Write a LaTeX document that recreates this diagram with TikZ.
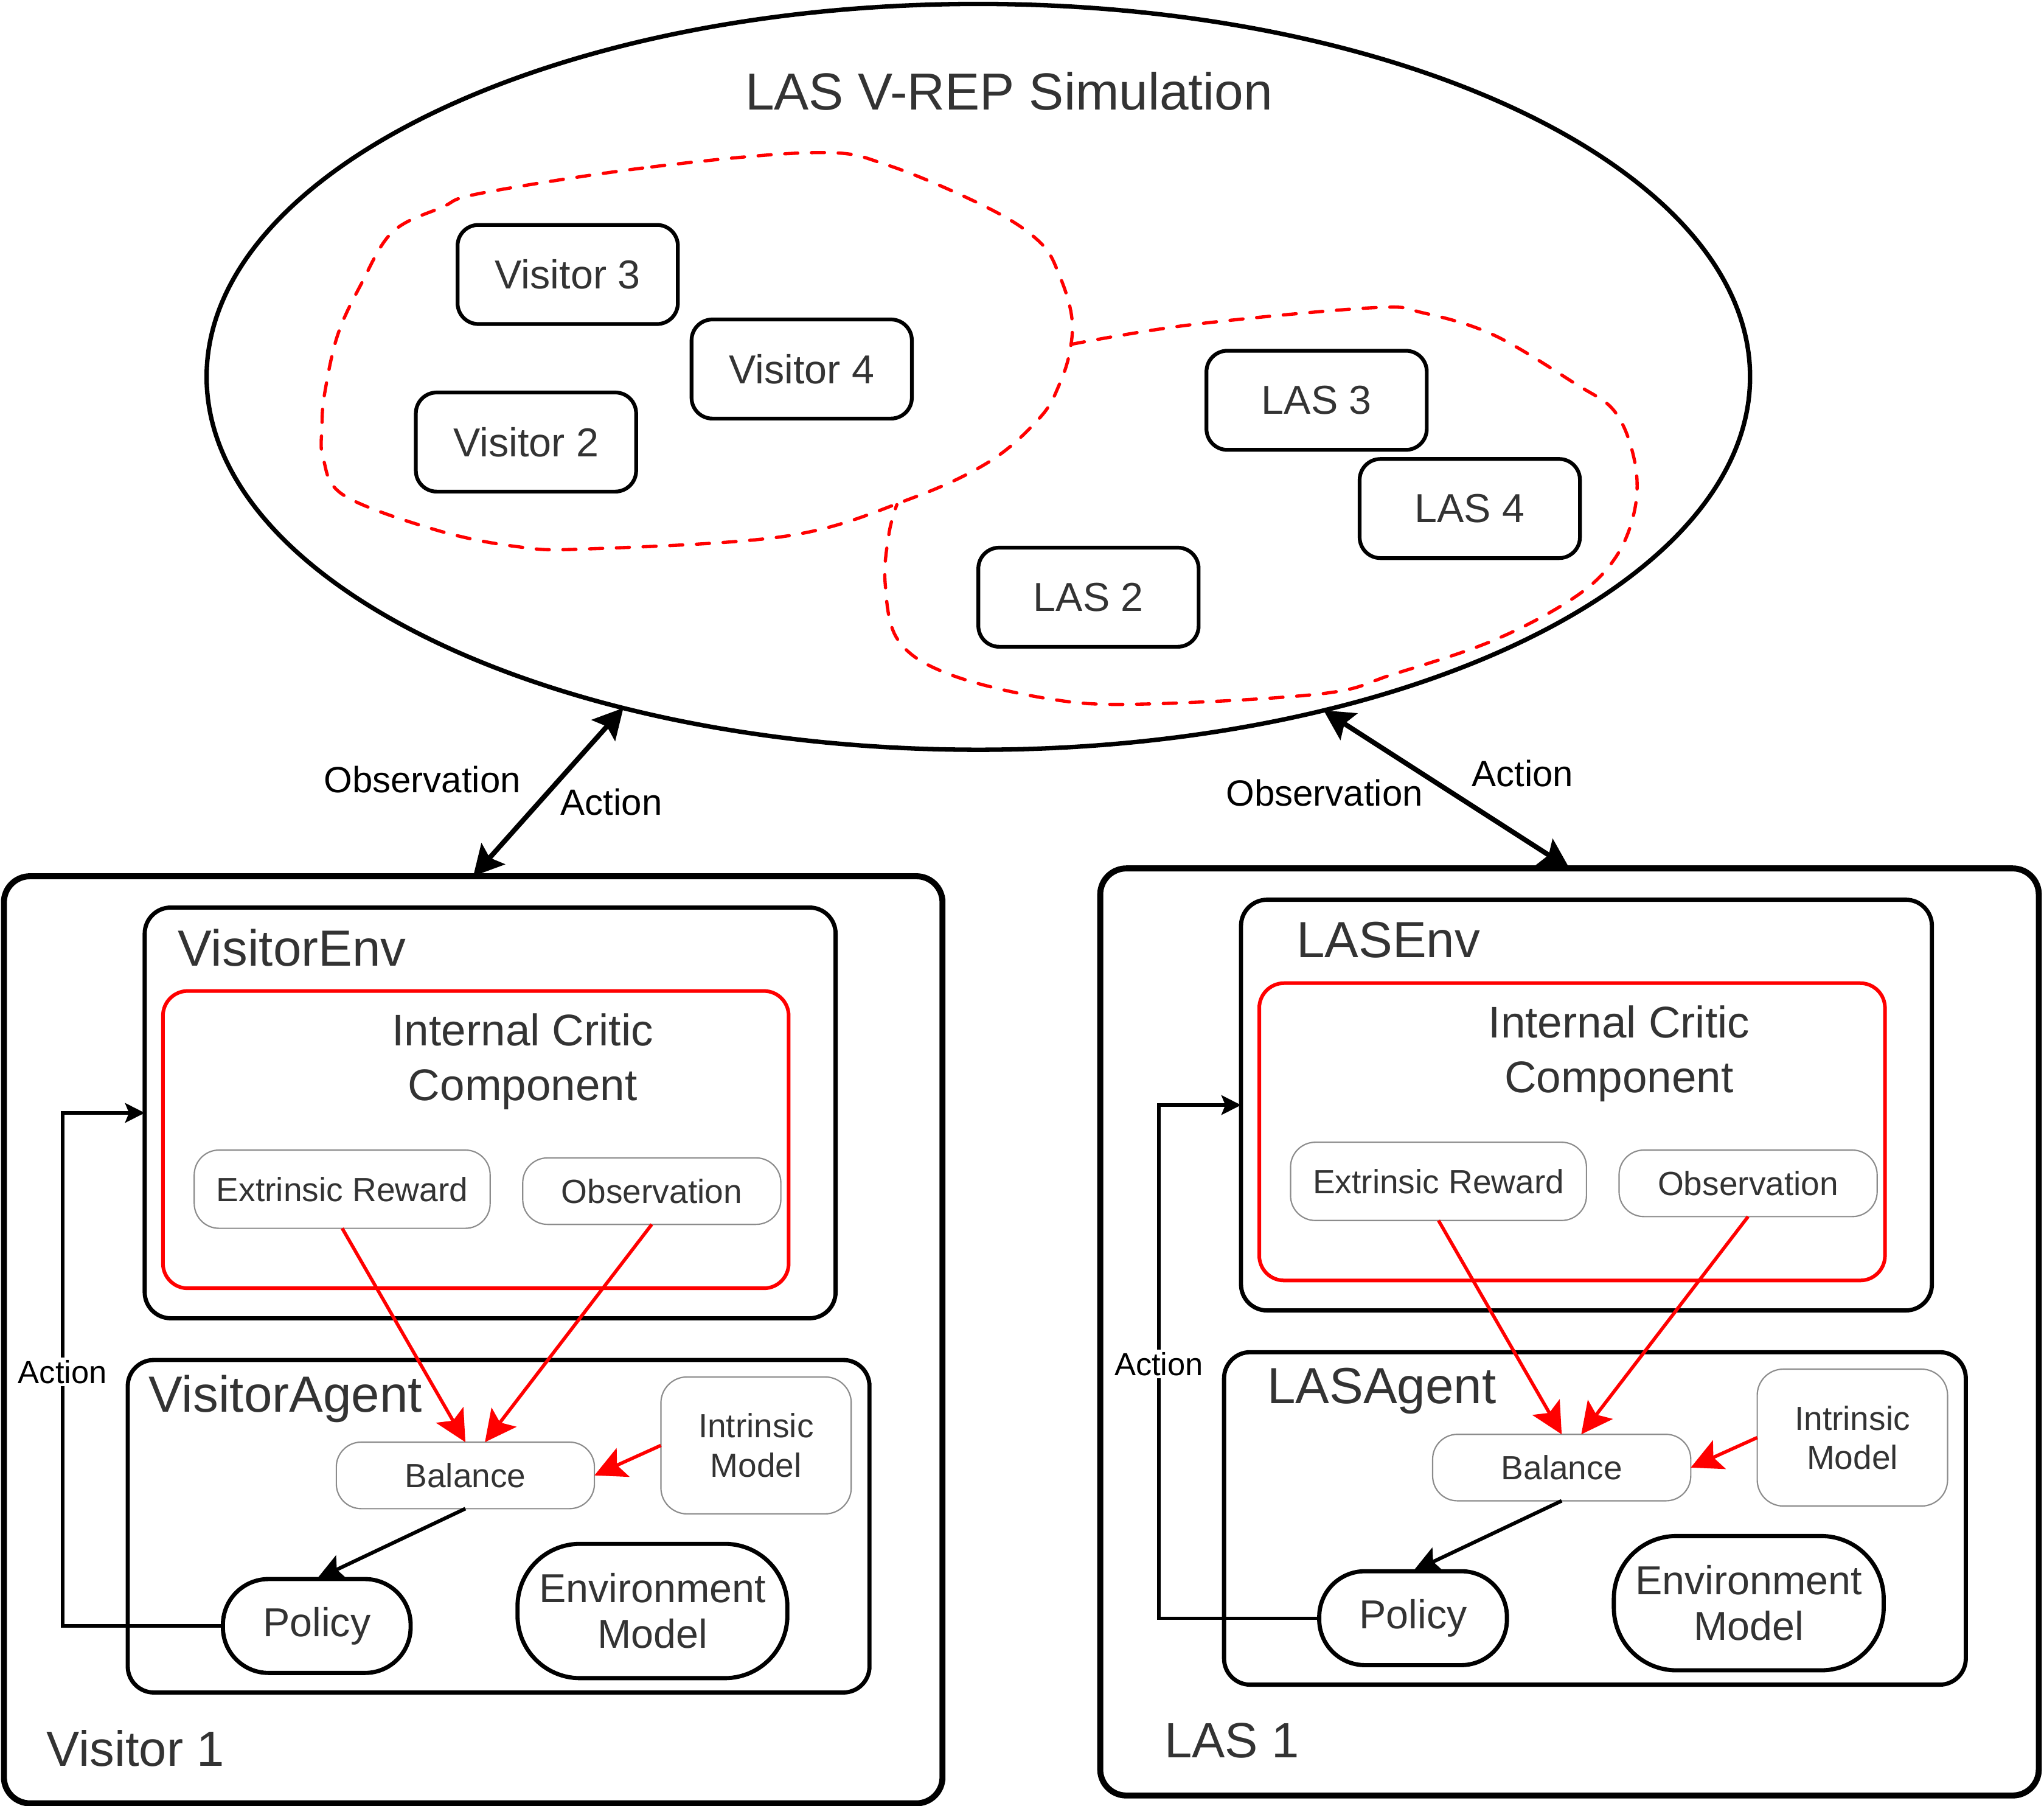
\documentclass[tikz,border=0pt]{standalone}
\usepackage{fontspec}
\setmainfont{Liberation Sans}
\usetikzlibrary{arrows.meta,shapes.geometric,calc}
\definecolor{txt}{HTML}{333333}
\definecolor{gbd}{HTML}{8C8C8C}
\definecolor{myred}{HTML}{FF0000}
\newcommand\fsz[2]{\fontsize{#1pt}{#2pt}\selectfont}
\tikzset{
  every node/.style={inner sep=0pt, outer sep=0pt, text=txt},
  bigbox/.style={draw=black, line width=4.6pt, rounded corners=20pt},
  midbox/.style={draw=black, line width=3.2pt, rounded corners=20pt},
  critic/.style={draw=myred, line width=2.8pt, rounded corners=19pt},
  soft/.style={draw=gbd, line width=1pt, rounded corners=19pt, fill=white, font=\fsz{25.7}{30}},
  pill/.style={draw=black, line width=3.2pt, fill=white},
  simbox/.style={draw=black, line width=2.9pt, rounded corners=16pt, minimum width=169pt, minimum height=76pt, font=\fsz{31}{36}},
  blob/.style={draw=myred, line width=2.5pt, line cap=round, dash pattern=on 10pt off 10.5pt},
  redarrow/.style={draw=myred, line width=2.6pt, -{Stealth[length=24pt,width=24pt,inset=5pt]}},
  blkarrow/.style={draw=black, line width=2.8pt, -{Stealth[length=21pt,width=20pt,inset=4pt]}},
  bigarrow/.style={draw=black, line width=3.8pt, {Stealth[length=23pt,width=24pt,inset=4pt]}-{Stealth[length=23pt,width=24pt,inset=4pt]}},
  actline/.style={draw=black, line width=2.6pt, -{Stealth[length=15pt,width=15pt,inset=3pt]}},
  lbl/.style={text=black, font=\fsz{28}{32}},
  actlbl/.style={text=black, font=\fsz{24.5}{28}, fill=white, inner sep=2pt},
}
\newcommand\agentunit[6]{%
\begin{scope}[shift={(#2,#3)}]
 \node[bigbox, minimum width=720pt, minimum height=711pt] (#1box) at (363,1027.5) {};
 \node[font=\fsz{38}{44}] (#1lbl) at (104,1341) {#4};
 \node[midbox, minimum width=530pt, minimum height=315pt] (#1env) at (376,853.5) {};
 \node[font=\fsz{39}{44}] (#1envlbl) at (224,727) {#5};
 \node[critic, minimum width=480pt, minimum height=228pt] (#1crit) at (365,874) {};
 \node[font=\fsz{34}{42}, align=center] (#1crittxt) at (401,814) {Internal Critic\\Component};
 \node[soft, minimum width=227pt, minimum height=60pt] (#1ext) at (262.5,912) {Extrinsic Reward};
 \node[soft, minimum width=198pt, minimum height=51pt] (#1obs) at (500,913.5) {Observation};
 \node[midbox, minimum width=569pt, minimum height=255pt] (#1agent) at (382.5,1170.5) {};
 \node[font=\fsz{39}{44}] (#1agentlbl) at (219,1073) {#6};
 \node[soft, minimum width=198pt, minimum height=51pt] (#1bal) at (357,1131.5) {Balance};
 \node[soft, rounded corners=20pt, minimum width=146pt, minimum height=105pt, align=center] (#1intr) at (580,1108.5) {Intrinsic\\Model};
 \node[pill, rounded corners=35pt, minimum width=144pt, minimum height=72pt, font=\fsz{31}{36}] (#1pol) at (243,1247) {Policy};
 \node[pill, rounded corners=48pt, minimum width=207pt, minimum height=103pt, align=center, font=\fsz{31}{35}] (#1em) at (500.5,1235.5) {Environment\\Model};
 \draw[redarrow] (#1ext.south) -- (#1bal.north);
 \draw[redarrow] (#1obs.south) -- ([xshift=15pt]#1bal.north);
 \draw[redarrow] (#1intr.west) -- (#1bal.east);
 \draw[blkarrow] (#1bal.south) -- (#1pol.north);
 \draw[actline] (#1pol.west) -- ++(-123,0) |- (#1env.west);
 \node[actlbl] (#1act) at (48,1052) {Action};
\end{scope}}
\begin{document}
\begin{tikzpicture}[x=1pt,y=-1pt]
\useasboundingbox (0,0) rectangle (1568,1385);
\node[ellipse, draw=black, line width=3.4pt, minimum width=1184pt, minimum height=572pt] (sim) at (750.5,289) {};
\node[font=\fsz{40}{48}] (title) at (774,70) {LAS V-REP Simulation};
% red groupings
\draw[blob] plot[smooth cycle, tension=0.6] coordinates {
 (370,148) (500,128) (627,117) (682,127) (759,160) (798,186) (813,212) (822,242)
 (821,268) (813,294) (798,320) (759,354) (697,383) (604,411) (450,421) (395,419)
 (333,406) (264,380) (248,352) (247,327) (249,302) (259,257) (277,218) (301,178) (339,159)};
\draw[blob] plot[smooth, tension=0.6] coordinates {
 (822,264) (914,249) (1053,236) (1092,240) (1146,257) (1208,294) (1239,316) (1254,354)
 (1254,391) (1239,428) (1208,458) (1146,491) (1069,517) (1014,532) (875,540) (805,536)
 (728,517) (689,491) (679,447) (682,409) (688,387)};
\node[simbox] (v3) at (435.5,210.5) {Visitor 3};
\node[simbox] (v4) at (615,283) {Visitor 4};
\node[simbox] (v2) at (403.5,339) {Visitor 2};
\node[simbox] (l3) at (1010,307) {LAS 3};
\node[simbox] (l4) at (1127.5,390) {LAS 4};
\node[simbox] (l2) at (835,458) {LAS 2};
\agentunit{v}{0}{0}{Visitor 1}{VisitorEnv}{VisitorAgent}
\agentunit{l}{841}{-6}{LAS 1}{LASEnv}{LASAgent}
\draw[bigarrow] (vbox.north) -- (sim.223.5);
\draw[bigarrow] (lbox.north) -- (sim.316);
\node[lbl] (vobs) at (324,598) {Observation};
\node[lbl] (vact) at (469,615) {Action};
\node[lbl] (lobs) at (1016,608) {Observation};
\node[lbl] (lact) at (1168,593) {Action};
\end{tikzpicture}
\end{document}
